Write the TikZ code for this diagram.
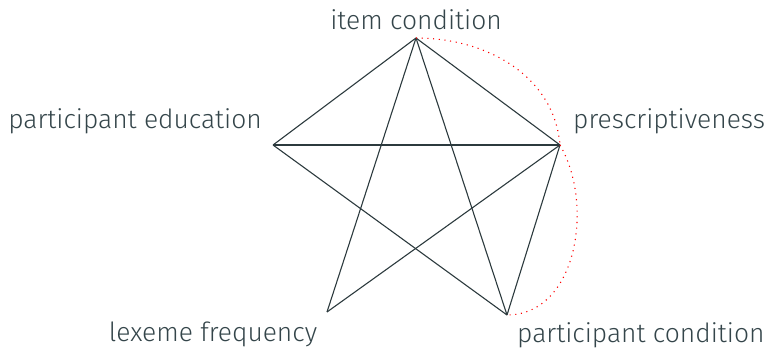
\documentclass[tikz,border=0pt]{standalone}
\usepackage{fontspec}
\setmainfont{Fira Sans Light}
\definecolor{ink}{HTML}{34454A}
\definecolor{edge}{HTML}{2C3A3E}
\tikzset{
  lbl/.style={text=ink, font=\fontsize{26.4}{31}\selectfont, inner sep=0pt},
  link/.style={draw=edge, line width=1.1pt},
  relation/.style={draw=red, line width=1.1pt, dash pattern=on 1.1pt off 4.6pt}
}
\begin{document}
\begin{tikzpicture}[x=1pt,y=-1pt]
\useasboundingbox (0,0) rectangle (767,350);
% vertices of the graph
\coordinate (ic) at (416,38);
\coordinate (pr) at (560,145);
\coordinate (pc) at (507,315);
\coordinate (lf) at (327,312);
\coordinate (pe) at (273,145);
% labels
\node[lbl, anchor=center] (tic) at (416,20) {item condition};
\node[lbl, anchor=west] (tpr) at (573,121) {prescriptiveness};
\node[lbl, anchor=east] (tpe) at (262,121) {participant education};
\node[lbl, anchor=center] (tlf) at (213,334) {lexeme frequency};
\node[lbl, anchor=west] (tpc) at (517,335) {participant condition};
% edges
\draw[link] (ic) -- (pe);
\draw[link] (ic) -- (pr);
\draw[link] (ic) -- (lf);
\draw[link] (ic) -- (pc);
\draw[link] (pe) -- (pr);
\draw[link] (pe) -- (pc);
\draw[link] (pr) -- (lf);
\draw[link] (pr) -- (pc);
% dotted relations
\draw[relation] (ic) to[out=0, in=95, looseness=1.0] (pr);
\draw[relation] (pr) to[out=-60, in=0, looseness=1.0] (pc);
\end{tikzpicture}
\end{document}
